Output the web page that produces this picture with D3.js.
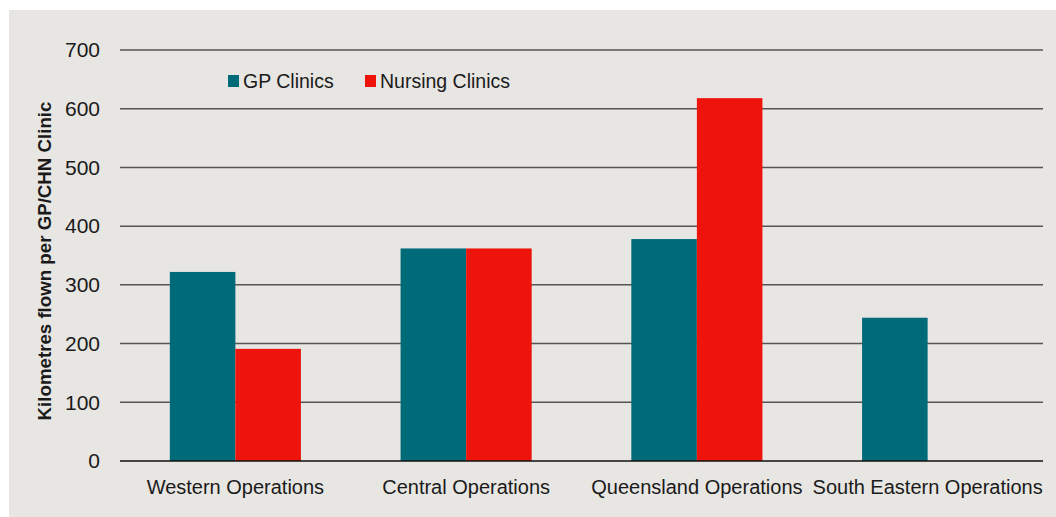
<!DOCTYPE html>
<meta charset="utf-8">
<script src="https://d3js.org/d3.v7.min.js"></script>
<style>
  body { margin: 0; background: #fff; }
  text { font-family: "Liberation Sans", Arial, sans-serif; fill: #1a1a1a; }
</style>
<div id="my_dataviz"></div>
<script>

// data
var regions = ["Western Operations", "Central Operations", "Queensland Operations", "South Eastern Operations"];
var seriesNames = ["GP Clinics", "Nursing Clinics"];
var gpValues = [322, 362, 378, 244];
var nursingValues = [191, 362, 618, 0];
var yTicks = [0, 100, 200, 300, 400, 500, 600, 700];
var colours = ["#006b78", "#ee140c"];

var W = 1056, H = 517;
var margin = {top: 50, right: 13, bottom: 56, left: 120},
    width = W - margin.left - margin.right,
    height = H - margin.top - margin.bottom;

var root = d3.select("#my_dataviz")
  .append("svg")
    .attr("width", W)
    .attr("height", H);

// grey panel
root.append("rect")
  .attr("x", 9).attr("y", 10)
  .attr("width", W - 9).attr("height", H - 10)
  .attr("fill", "#e8e6e3");

var svg = root.append("g")
  .attr("transform", "translate(" + margin.left + "," + margin.top + ")");

var x = d3.scaleBand()
  .domain(regions)
  .range([0, width]);

var xInner = d3.scaleBand()
  .domain(seriesNames)
  .range([0, x.bandwidth()])
  .paddingOuter(0.76);

var y = d3.scaleLinear()
  .domain([0, 700])
  .range([height, 0]);

// gridlines
svg.append("g")
  .selectAll("line")
  .data(yTicks.filter(function(d){ return d > 0; }))
  .enter()
  .append("line")
    .attr("x1", 0).attr("x2", width)
    .attr("y1", function(d){ return y(d); })
    .attr("y2", function(d){ return y(d); })
    .attr("stroke", "#555")
    .attr("stroke-width", 1.5);

// y tick labels
svg.append("g")
  .selectAll("text")
  .data(yTicks)
  .enter()
  .append("text")
    .attr("x", -20)
    .attr("y", function(d){ return y(d); })
    .attr("dy", "0.35em")
    .attr("text-anchor", "end")
    .style("font-size", "21px")
    .text(function(d){ return d; });

// bars
var rows = regions.map(function(r, i) {
  return {region: r, values: [gpValues[i], nursingValues[i]]};
});

var groups = svg.append("g")
  .selectAll("g")
  .data(rows)
  .enter()
  .append("g")
    .attr("transform", function(d){ return "translate(" + x(d.region) + ",0)"; });

groups.selectAll("rect")
  .data(function(d){ return d.values.map(function(v, j){ return {name: seriesNames[j], value: v, j: j}; }); })
  .enter()
  .append("rect")
    .attr("x", function(d){ return xInner(d.name); })
    .attr("width", xInner.bandwidth())
    .attr("y", function(d){ return y(d.value); })
    .attr("height", function(d){ return height - y(d.value); })
    .attr("fill", function(d){ return colours[d.j]; });

// baseline
svg.append("line")
  .attr("x1", 0).attr("x2", width)
  .attr("y1", y(0)).attr("y2", y(0))
  .attr("stroke", "#111")
  .attr("stroke-width", 1.5);

// x labels
svg.append("g")
  .selectAll("text")
  .data(regions)
  .enter()
  .append("text")
    .attr("x", function(d){ return x(d) + x.bandwidth() / 2; })
    .attr("y", height + 33)
    .attr("text-anchor", "middle")
    .style("font-size", "20px")
    .text(function(d){ return d; });

// y title
root.append("text")
  .attr("transform", "translate(51,261) rotate(-90)")
  .attr("text-anchor", "middle")
  .style("font-size", "18.7px")
  .style("font-weight", "bold")
  .text("Kilometres flown per GP/CHN Clinic");

// legend
var legendX = [228, 365];
var legend = root.append("g")
  .selectAll("g")
  .data(seriesNames)
  .enter()
  .append("g")
    .attr("transform", function(d, i){ return "translate(" + legendX[i] + ",75)"; });
legend.append("rect")
  .attr("width", 11).attr("height", 12)
  .attr("fill", function(d, i){ return colours[i]; });
legend.append("text")
  .attr("x", 15).attr("y", 6)
  .attr("dy", "0.35em")
  .style("font-size", "19.5px")
  .text(function(d){ return d; });

</script>
